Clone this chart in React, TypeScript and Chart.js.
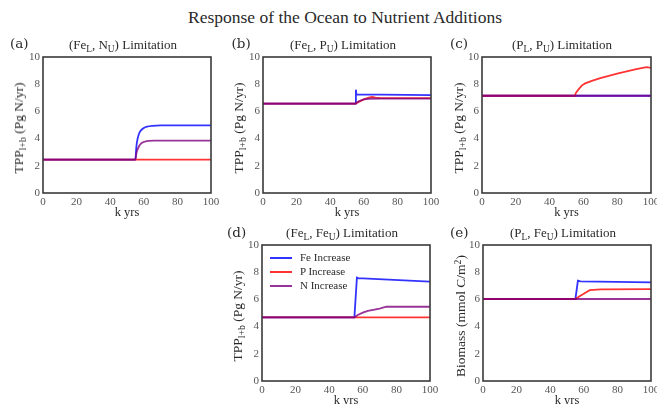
import React, { useEffect, useRef } from 'react';
import { Chart, registerables } from 'chart.js';

Chart.register(...registerables);

// ---------- data ----------
const SERIES_NAMES = ['Fe Increase', 'P Increase', 'N Increase'];
const X_TICKS = [0, 20, 40, 60, 80, 100];
const Y_TICKS = [0, 2, 4, 6, 8, 10];

// (a) (Fe_L, N_U)
const A_FE_X = [0, 55, 55.5, 56, 57, 58, 60, 62, 65, 70, 100];
const A_FE_Y = [2.45, 2.45, 3.3, 3.8, 4.3, 4.55, 4.78, 4.88, 4.94, 4.97, 4.97];
const A_P_X = [0, 55, 100];
const A_P_Y = [2.45, 2.45, 2.45];
const A_N_X = [0, 55, 55.5, 56, 57, 58, 60, 63, 66, 100];
const A_N_Y = [2.45, 2.45, 2.85, 3.1, 3.4, 3.6, 3.75, 3.83, 3.85, 3.85];

// (b) (Fe_L, P_U)
const B_FE_X = [0, 55, 55.3, 55.6, 100];
const B_FE_Y = [6.57, 6.57, 7.6, 7.25, 7.2];
const B_P_X = [0, 55, 57, 60, 63, 65, 67, 70, 100];
const B_P_Y = [6.57, 6.57, 6.7, 6.88, 7.02, 7.07, 7.02, 6.98, 6.97];
const B_N_X = [0, 55, 57, 60, 63, 70, 100];
const B_N_Y = [6.57, 6.57, 6.75, 6.88, 6.93, 6.94, 6.94];

// (c) (P_L, P_U)
const C_FE_X = [0, 100];
const C_FE_Y = [7.15, 7.15];
const C_P_X = [0, 55, 55.5, 57, 59, 61, 65, 70, 75, 80, 85, 90, 95, 97.5, 100];
const C_P_Y = [7.15, 7.15, 7.35, 7.6, 7.9, 8.06, 8.25, 8.45, 8.62, 8.78, 8.93, 9.07, 9.2, 9.26, 9.2];
const C_N_X = [0, 100];
const C_N_Y = [7.15, 7.15];

// (d) (Fe_L, Fe_U)
const D_FE_X = [0, 55, 56.5, 57.5, 60, 100];
const D_FE_Y = [4.68, 4.68, 7.6, 7.55, 7.55, 7.3];
const D_P_X = [0, 100];
const D_P_Y = [4.68, 4.68];
const D_N_X = [0, 55, 57, 60, 63, 67, 70, 74, 100];
const D_N_Y = [4.68, 4.68, 4.85, 5.03, 5.15, 5.25, 5.33, 5.46, 5.46];

// (e) (P_L, Fe_U)
const E_FE_X = [0, 55, 56.5, 58, 100];
const E_FE_Y = [6.03, 6.03, 7.38, 7.33, 7.25];
const E_P_X = [0, 55, 57, 60, 63.5, 70, 100];
const E_P_Y = [6.03, 6.03, 6.2, 6.42, 6.68, 6.73, 6.76];
const E_N_X = [0, 100];
const E_N_Y = [6.03, 6.03];

// ---------- style ----------
const COLORS = ['rgba(0,0,255,0.8)', 'rgba(255,0,0,0.8)', 'rgba(128,0,128,0.8)'];
const SERIF = '"Liberation Serif", "Times New Roman", serif';
const LABEL_FONT = '"DejaVu Serif", serif';
const TEXT = '#2a2a2a';
const TICK = '#555';
const PAD_T = 10;
const PAD_R = 14;
const Y_W = 26;
const X_H = 18;
const PLOT_H = 136;

type Series = { x: number[]; y: number[] };

const framePlugin = {
  id: 'frame',
  afterDraw(chart: any) {
    const { ctx, chartArea } = chart;
    const { left, top, right, bottom } = chartArea;
    ctx.save();
    ctx.strokeStyle = '#3a3a3a';
    ctx.lineWidth = 1.6;
    ctx.strokeRect(left, top, right - left, bottom - top);
    ctx.restore();
  },
};

function Panel(props: { left: number; top: number; w: number; series: Series[]; smooth?: boolean }) {
  const { left, top, w, series, smooth } = props;
  const ref = useRef<HTMLCanvasElement>(null);
  const cw = Y_W + w + PAD_R;
  const ch = PAD_T + PLOT_H + X_H;
  useEffect(() => {
    const chart = new Chart(ref.current as HTMLCanvasElement, {
      type: 'line',
      data: {
        datasets: series.map((s, k) => ({
          label: SERIES_NAMES[k],
          data: s.x.map((x, i) => ({ x, y: s.y[i] })),
          borderColor: COLORS[k],
          backgroundColor: COLORS[k],
          borderWidth: 1.8,
          pointRadius: 0,
          fill: false,
          tension: 0,
          order: 2 - k,
          cubicInterpolationMode: smooth ? 'monotone' : 'default',
        })),
      },
      options: {
        animation: false,
        responsive: false,
        maintainAspectRatio: false,
        layout: { padding: { top: PAD_T, right: PAD_R, left: 0, bottom: 0 } },
        plugins: { legend: { display: false }, tooltip: { enabled: false }, title: { display: false } },
        scales: {
          x: {
            type: 'linear',
            min: 0,
            max: 100,
            afterBuildTicks: (s: any) => {
              s.ticks = X_TICKS.map((v) => ({ value: v }));
            },
            afterFit: (s: any) => {
              s.height = X_H;
            },
            grid: { display: false, drawTicks: false },
            border: { display: false },
            ticks: { padding: 3, color: TICK, font: { family: SERIF, size: 11 }, maxRotation: 0, autoSkip: false },
          },
          y: {
            type: 'linear',
            min: 0,
            max: 10,
            afterBuildTicks: (s: any) => {
              s.ticks = Y_TICKS.map((v) => ({ value: v }));
            },
            afterFit: (s: any) => {
              s.width = Y_W;
            },
            grid: { display: false, drawTicks: false },
            border: { display: false },
            ticks: { padding: 3, color: TICK, font: { family: SERIF, size: 11 }, autoSkip: false },
          },
        },
      } as any,
      plugins: [framePlugin],
    });
    return () => chart.destroy();
  }, []);
  return (
    <canvas
      ref={ref}
      width={cw}
      height={ch}
      style={{ position: 'absolute', left: left - Y_W, top: top - PAD_T, width: cw, height: ch }}
    />
  );
}

const Sub = (p: { children: React.ReactNode }) => (
  <span style={{ fontSize: '0.72em', position: 'relative', top: '0.3em', lineHeight: 0 }}>{p.children}</span>
);
const Sup = (p: { children: React.ReactNode }) => (
  <span style={{ fontSize: '0.72em', position: 'relative', top: '-0.45em', lineHeight: 0 }}>{p.children}</span>
);

function Text(props: { x: number; base: number; size: number; align?: 'center' | 'left'; font?: string; color?: string; children: React.ReactNode }) {
  const { x, base, size, align = 'center', font = SERIF, color = TEXT, children } = props;
  return (
    <div
      style={{
        position: 'absolute',
        left: x,
        top: base - 0.84 * size,
        fontFamily: font,
        fontSize: size,
        lineHeight: `${size}px`,
        color,
        whiteSpace: 'nowrap',
        transform: align === 'center' ? 'translateX(-50%)' : undefined,
      }}
    >
      {children}
    </div>
  );
}

function YLabel(props: { cx: number; cy: number; children: React.ReactNode }) {
  return (
    <div
      style={{
        position: 'absolute',
        left: props.cx,
        top: props.cy,
        fontFamily: SERIF,
        fontSize: 13.5,
        lineHeight: '14px',
        color: TEXT,
        whiteSpace: 'nowrap',
        transform: 'translate(-50%, -50%) rotate(-90deg)',
      }}
    >
      {props.children}
    </div>
  );
}

const TPP = (
  <>
    TPP<Sub>l+b</Sub> (Pg N/yr)
  </>
);

export default function App() {
  const top1 = 57;
  const top2 = 245;
  const mk = (xs: number[][], ys: number[][]): Series[] => xs.map((x, i) => ({ x, y: ys[i] }));
  return (
    <div
      style={{
        position: 'fixed',
        left: 0,
        top: 0,
        width: 657,
        height: 404,
        overflow: 'hidden',
        background: '#fff',
      }}
    >
      <Text x={345} base={23.5} size={17.5}>
        Response of the Ocean to Nutrient Additions
      </Text>

      <Panel left={43} top={top1} w={168} smooth series={mk([A_FE_X, A_P_X, A_N_X], [A_FE_Y, A_P_Y, A_N_Y])} />
      <Panel left={263} top={top1} w={168} series={mk([B_FE_X, B_P_X, B_N_X], [B_FE_Y, B_P_Y, B_N_Y])} />
      <Panel left={482} top={top1} w={169} series={mk([C_FE_X, C_P_X, C_N_X], [C_FE_Y, C_P_Y, C_N_Y])} />
      <Panel left={262} top={top2} w={168} series={mk([D_FE_X, D_P_X, D_N_X], [D_FE_Y, D_P_Y, D_N_Y])} />
      <Panel left={483} top={top2} w={168} series={mk([E_FE_X, E_P_X, E_N_X], [E_FE_Y, E_P_Y, E_N_Y])} />

      {/* panel letters */}
      <Text x={10} base={48} size={13.5} align="left" font={LABEL_FONT}>(a)</Text>
      <Text x={231.5} base={48} size={13.5} align="left" font={LABEL_FONT}>(b)</Text>
      <Text x={450} base={48} size={13.5} align="left" font={LABEL_FONT}>(c)</Text>
      <Text x={227} base={237} size={13.5} align="left" font={LABEL_FONT}>(d)</Text>
      <Text x={450} base={237} size={13.5} align="left" font={LABEL_FONT}>(e)</Text>

      {/* subplot titles */}
      <Text x={123} base={49} size={13}>
        (Fe<Sub>L</Sub>, N<Sub>U</Sub>) Limitation
      </Text>
      <Text x={343} base={49} size={13}>
        (Fe<Sub>L</Sub>, P<Sub>U</Sub>) Limitation
      </Text>
      <Text x={562} base={49} size={13}>
        (P<Sub>L</Sub>, P<Sub>U</Sub>) Limitation
      </Text>
      <Text x={342} base={237} size={13}>
        (Fe<Sub>L</Sub>, Fe<Sub>U</Sub>) Limitation
      </Text>
      <Text x={563} base={237} size={13}>
        (P<Sub>L</Sub>, Fe<Sub>U</Sub>) Limitation
      </Text>

      {/* y labels */}
      <YLabel cx={18.5} cy={128}>{TPP}</YLabel>
      <YLabel cx={238.5} cy={128}>{TPP}</YLabel>
      <YLabel cx={458.7} cy={128}>{TPP}</YLabel>
      <YLabel cx={238} cy={316}>{TPP}</YLabel>
      <YLabel cx={460.7} cy={316}>
        Biomass (mmol C/m<Sup>2</Sup>)
      </YLabel>

      {/* x labels */}
      <Text x={127} base={216} size={12.5}>k yrs</Text>
      <Text x={347} base={216} size={12.5}>k yrs</Text>
      <Text x={566.5} base={216} size={12.5}>k yrs</Text>
      <Text x={346} base={404} size={12.5}>k yrs</Text>
      <Text x={567} base={404} size={12.5}>k yrs</Text>

      {/* legend in (d) */}
      {SERIES_NAMES.map((name, i) => (
        <React.Fragment key={name}>
          <div
            style={{
              position: 'absolute',
              left: 270,
              top: 257 + i * 14,
              width: 22,
              height: 2,
              background: COLORS[i],
            }}
          />
          <Text x={300} base={261 + i * 14} size={11} align="left">
            {name}
          </Text>
        </React.Fragment>
      ))}
    </div>
  );
}
